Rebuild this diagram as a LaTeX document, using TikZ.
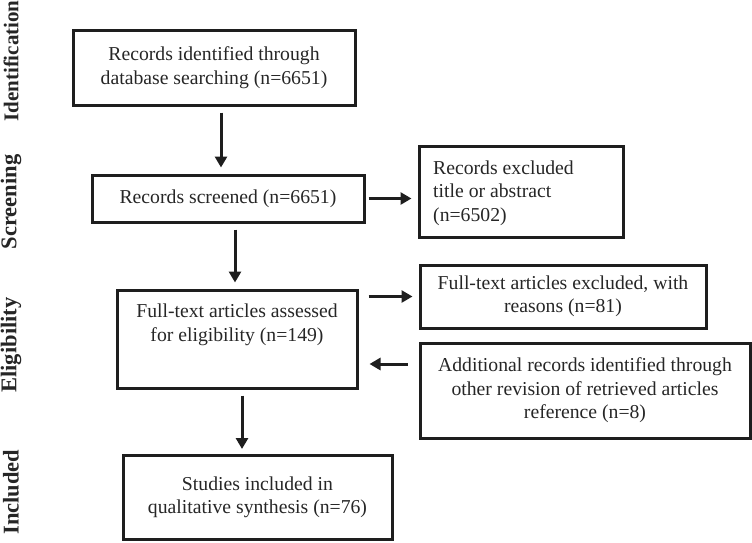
\documentclass[tikz,border=0pt]{standalone}
\usepackage{fontspec}
\setmainfont{Liberation Serif}
\usetikzlibrary{arrows.meta}
\definecolor{ink}{HTML}{1E1E1E}
\definecolor{txt}{HTML}{262626}
\tikzset{
  box/.style={draw=ink, line width=3pt, inner sep=0pt, align=center, text=txt,
    font=\fontsize{19.7}{23.5}\selectfont},
  body/.style={inner sep=0pt, text=txt, font=\fontsize{19.7}{23.5}\selectfont},
  arr/.style={draw=ink, line width=3pt, -{Triangle[length=11pt,width=12pt]}},
  phase/.style={rotate=90, inner sep=0pt, text=txt, font=\fontsize{22.5}{24}\selectfont\bfseries}
}
\begin{document}
\begin{tikzpicture}[x=1pt,y=-1pt]
\useasboundingbox (0,0) rectangle (752,542);
% phase labels
\node[phase, font=\fontsize{21}{24}\selectfont\bfseries] (lid) at (11,61) {Identification};
\node[phase] (lsc) at (11,202) {Screening};
\node[phase] (lel) at (11,345) {Eligibility};
\node[phase] (lin) at (11,492) {Included};
% boxes
\node[box, minimum width=282pt, minimum height=75pt] (b1) at (214,67.5)
  {Records identified through\\database searching (n=6651)};
\node[box, minimum width=272pt, minimum height=47pt] (b2) at (228,198.5)
  {Records screened (n=6651)};
\node[box, minimum width=204pt, minimum height=91pt] (b3) at (521,191.5) {};
\node[body, align=left, anchor=west] (t3) at (433,193)
  {Records excluded\\title or abstract\\(n=6502)};
\node[box, minimum width=240pt, minimum height=98pt] (ft) at (237,339) {};
\node[body, align=center] (tft) at (237,325)
  {Full-text articles assessed\\for eligibility (n=149)};
\node[box, minimum width=286pt, minimum height=63pt] (b4) at (563,296.5)
  {Full-text articles excluded, with\\reasons (n=81)};
\node[box, minimum width=330pt, minimum height=95pt] (b5) at (585,390.5)
  {Additional records identified through\\other revision of retrieved articles\\reference (n=8)};
\node[box, minimum width=269pt, minimum height=84pt] (b6) at (257.5,497.5)
  {Studies included in\\qualitative synthesis (n=76)};
\coordinate (a5) at ([yshift=26.5pt]b5.west);
% connectors
\draw[arr, shorten <=6pt, shorten >=6pt] ([xshift=7pt]b1.south) -- ([xshift=7pt]b1.south |- b2.north);
\draw[arr, shorten <=6pt, shorten >=6pt] ([xshift=7pt]b2.south) -- ([xshift=7pt]b2.south |- ft.north);
\draw[arr, shorten <=6pt, shorten >=5pt] ([xshift=5pt]ft.south) -- ([xshift=5pt]ft.south |- b6.north);
\draw[arr, shorten <=3pt, shorten >=6pt] (b2.east) -- (b3.west |- b2.east);
\draw[arr, shorten <=10pt, shorten >=6pt] (ft.east |- b4.west) -- (b4.west);
\draw[arr, shorten <=11pt, shorten >=11pt] (a5) -- (ft.east |- a5);
\end{tikzpicture}
\end{document}
